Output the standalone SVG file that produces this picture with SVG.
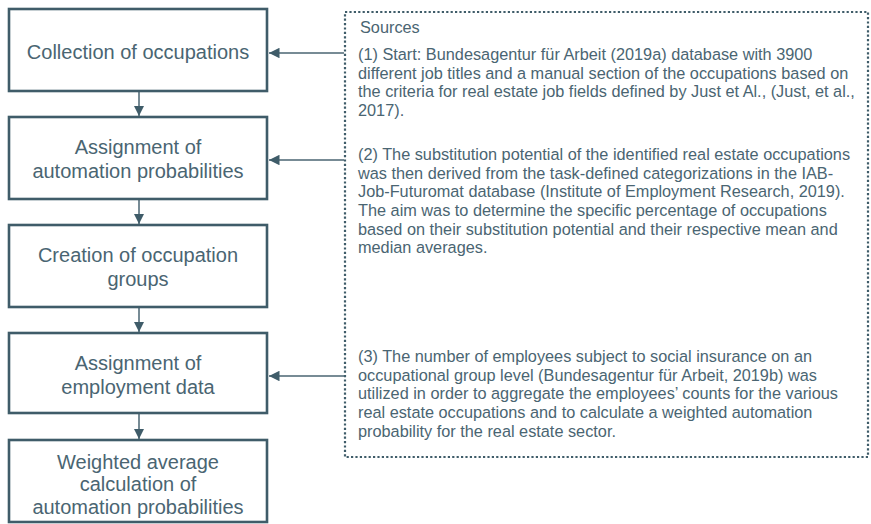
<svg xmlns="http://www.w3.org/2000/svg" width="871" height="524" viewBox="0 0 871 524">
<style>
.box{fill:#fff;stroke:#3f5c69;stroke-width:2.6}
.bt{font-family:"Liberation Sans",Arial,sans-serif;font-size:20px;fill:#4a6572;text-anchor:middle}
.st{font-family:"Liberation Sans",Arial,sans-serif;font-size:16.3px;fill:#4a6572}
.ln{stroke:#4a6572;stroke-width:1.5;fill:none}
.src{fill:none;stroke:#3f5c69;stroke-width:2.2;stroke-dasharray:2.2 2.2}
</style>
<defs>
<marker id="ah" viewBox="0 0 10 10" refX="10" refY="5" markerWidth="7" markerHeight="7" markerUnits="strokeWidth" orient="auto">
<path d="M0,0 L10,5 L0,10 z" fill="#3f5c69"/>
</marker>
</defs>
<rect width="871" height="524" fill="#fff"/>
<g id="connectors">
<line class="ln" x1="139" y1="92" x2="139" y2="116" marker-end="url(#ah)"/>
<line class="ln" x1="139" y1="200" x2="139" y2="224" marker-end="url(#ah)"/>
<line class="ln" x1="139" y1="308" x2="139" y2="332" marker-end="url(#ah)"/>
<line class="ln" x1="139" y1="414" x2="139" y2="439" marker-end="url(#ah)"/>
<line class="ln" x1="344" y1="53" x2="269" y2="53" marker-end="url(#ah)"/>
<line class="ln" x1="344" y1="160" x2="269" y2="160" marker-end="url(#ah)"/>
<line class="ln" x1="344" y1="376" x2="269" y2="376" marker-end="url(#ah)"/>
</g>
<g id="n1">
<rect class="box" x="9" y="9" width="258" height="82"/>
<text class="bt" x="138" y="59">Collection of occupations</text>
</g>
<g id="n2">
<rect class="box" x="9" y="117" width="258" height="82"/>
<text class="bt" x="138" y="154">Assignment of</text>
<text class="bt" x="138" y="178">automation probabilities</text>
</g>
<g id="n3">
<rect class="box" x="9" y="225" width="258" height="82"/>
<text class="bt" x="138" y="262">Creation of occupation</text>
<text class="bt" x="138" y="286">groups</text>
</g>
<g id="n4">
<rect class="box" x="9" y="333" width="258" height="80"/>
<text class="bt" x="138" y="370">Assignment of</text>
<text class="bt" x="138" y="394">employment data</text>
</g>
<g id="n5">
<rect class="box" x="9" y="440" width="258" height="82"/>
<text class="bt" x="138" y="469">Weighted average</text>
<text class="bt" x="138" y="491">calculation of</text>
<text class="bt" x="138" y="514">automation probabilities</text>
</g>
<g id="sources">
<rect class="src" x="345" y="12" width="523" height="445"/>
<text class="st" x="360" y="33">Sources</text>
<text class="st" x="358" y="60">(1) Start: Bundesagentur für Arbeit (2019a) database with 3900</text>
<text class="st" x="358" y="79">different job titles and a manual section of the occupations based on</text>
<text class="st" x="358" y="97">the criteria for real estate job fields defined by Just et Al., (Just, et al.,</text>
<text class="st" x="358" y="116">2017).</text>
<text class="st" x="358" y="160">(2) The substitution potential of the identified real estate occupations</text>
<text class="st" x="358" y="179">was then derived from the task-defined categorizations in the IAB-</text>
<text class="st" x="358" y="197">Job-Futuromat database (Institute of Employment Research, 2019).</text>
<text class="st" x="358" y="216">The aim was to determine the specific percentage of occupations</text>
<text class="st" x="358" y="235">based on their substitution potential and their respective mean and</text>
<text class="st" x="358" y="253">median averages.</text>
<text class="st" x="358" y="362">(3) The number of employees subject to social insurance on an</text>
<text class="st" x="358" y="381">occupational group level (Bundesagentur für Arbeit, 2019b) was</text>
<text class="st" x="358" y="399">utilized in order to aggregate the employees’ counts for the various</text>
<text class="st" x="358" y="418">real estate occupations and to calculate a weighted automation</text>
<text class="st" x="358" y="437">probability for the real estate sector.</text>
</g>
</svg>
